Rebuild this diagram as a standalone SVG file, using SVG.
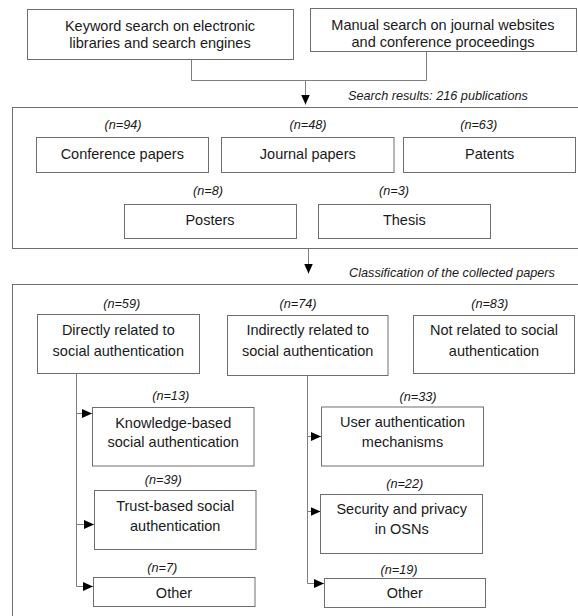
<svg xmlns="http://www.w3.org/2000/svg" width="578" height="616" viewBox="0 0 578 616">
<style>
  .box { fill: #ffffff; stroke: #6e6e6e; stroke-width: 1; }
  .frame { fill: none; stroke: #6e6e6e; stroke-width: 1; }
  .t { font-family: "Liberation Sans", Arial, sans-serif; font-size: 14.5px; fill: #1a1a1a; text-anchor: middle; }
  .n { font-family: "Liberation Sans", Arial, sans-serif; font-size: 12.7px; font-style: italic; fill: #1a1a1a; text-anchor: middle; }
  .cap { font-family: "Liberation Sans", Arial, sans-serif; font-size: 12.7px; font-style: italic; fill: #1a1a1a; text-anchor: start; }
  .conn { fill: none; stroke: #7f7f7f; stroke-width: 1; }
</style>
<defs>
  <marker id="ah" markerUnits="userSpaceOnUse" markerWidth="10" markerHeight="10" refX="10" refY="4.5" orient="auto">
    <path d="M0,0 L10,4.5 L0,9 z" fill="#000000"/>
  </marker>
</defs>
<rect width="578" height="616" fill="#ffffff"/>

<g id="frame-search-results">
  <rect class="frame" x="12.5" y="107.5" width="580" height="141"/>
  <text class="cap" x="348" y="99.5">Search results: 216 publications</text>
</g>
<g id="frame-classification">
  <rect class="frame" x="12.5" y="284.5" width="580" height="350"/>
  <text class="cap" x="349" y="276.5">Classification of the collected papers</text>
</g>

<g id="connectors">
  <path class="conn" d="M191.5,59.5 V80.5 H426.5 V52"/>
  <path class="conn" d="M305.5,80.5 V104.5" marker-end="url(#ah)"/>
  <path class="conn" d="M308.5,248.5 V273.5" marker-end="url(#ah)"/>
  <path class="conn" d="M76.5,373.5 V586.5"/>
  <path class="conn" d="M76.5,413.5 H92" marker-end="url(#ah)"/>
  <path class="conn" d="M76.5,524.5 H94" marker-end="url(#ah)"/>
  <path class="conn" d="M76.5,586.5 H93" marker-end="url(#ah)"/>
  <path class="conn" d="M307.5,375.5 V583.5"/>
  <path class="conn" d="M307.5,436.5 H321" marker-end="url(#ah)"/>
  <path class="conn" d="M307.5,511.5 H320.5" marker-end="url(#ah)"/>
  <path class="conn" d="M307.5,583.5 H324" marker-end="url(#ah)"/>
</g>

<g id="keyword-search">
  <rect class="box" x="27.5" y="9.5" width="266" height="50"/>
  <text class="t" x="160" y="30.5">Keyword search on electronic</text>
  <text class="t" x="160" y="48">libraries and search engines</text>
</g>
<g id="manual-search">
  <rect class="box" x="310.5" y="8.5" width="266" height="43"/>
  <text class="t" x="443" y="30">Manual search on journal websites</text>
  <text class="t" x="443" y="47">and conference proceedings</text>
</g>

<g id="conference-papers">
  <text class="n" x="123" y="128.5">(n=94)</text>
  <rect class="box" x="36.5" y="137.5" width="172" height="35"/>
  <text class="t" x="122.3" y="158.5">Conference papers</text>
</g>
<g id="journal-papers">
  <text class="n" x="308" y="128.5">(n=48)</text>
  <rect class="box" x="221.5" y="137.5" width="172.5" height="35"/>
  <text class="t" x="307.8" y="158.5">Journal papers</text>
</g>
<g id="patents">
  <text class="n" x="478.7" y="128.5">(n=63)</text>
  <rect class="box" x="403.5" y="137.5" width="172" height="35"/>
  <text class="t" x="489.7" y="158.5">Patents</text>
</g>
<g id="posters">
  <text class="n" x="208" y="195">(n=8)</text>
  <rect class="box" x="124.5" y="204.5" width="172" height="34"/>
  <text class="t" x="210" y="225">Posters</text>
</g>
<g id="thesis">
  <text class="n" x="394" y="195">(n=3)</text>
  <rect class="box" x="318.5" y="204.5" width="172" height="34"/>
  <text class="t" x="404.3" y="225">Thesis</text>
</g>

<g id="directly-related">
  <text class="n" x="121.7" y="307.5">(n=59)</text>
  <rect class="box" x="37.5" y="314.5" width="162" height="59"/>
  <text class="t" x="118.3" y="335">Directly related to</text>
  <text class="t" x="118.3" y="355.5">social authentication</text>
</g>
<g id="indirectly-related">
  <text class="n" x="298" y="307.5">(n=74)</text>
  <rect class="box" x="227.5" y="315.5" width="160.5" height="60"/>
  <text class="t" x="307.7" y="335">Indirectly related to</text>
  <text class="t" x="307.7" y="355.5">social authentication</text>
</g>
<g id="not-related">
  <text class="n" x="489.7" y="307.5">(n=83)</text>
  <rect class="box" x="413.5" y="315.5" width="161" height="58"/>
  <text class="t" x="494" y="335">Not related to social</text>
  <text class="t" x="494" y="355.5">authentication</text>
</g>

<g id="knowledge-based">
  <text class="n" x="170.7" y="399.5">(n=13)</text>
  <rect class="box" x="92.5" y="407.5" width="161.5" height="58.5"/>
  <text class="t" x="173.2" y="427.5">Knowledge-based</text>
  <text class="t" x="173.2" y="447">social authentication</text>
</g>
<g id="trust-based">
  <text class="n" x="163.3" y="484">(n=39)</text>
  <rect class="box" x="94.5" y="490.5" width="161.5" height="59"/>
  <text class="t" x="175.2" y="510.5">Trust-based social</text>
  <text class="t" x="175.2" y="531">authentication</text>
</g>
<g id="other-direct">
  <text class="n" x="162.3" y="571.5">(n=7)</text>
  <rect class="box" x="93.5" y="577.5" width="161.5" height="29"/>
  <text class="t" x="174" y="597.5">Other</text>
</g>

<g id="user-authentication">
  <text class="n" x="418" y="400.5">(n=33)</text>
  <rect class="box" x="321.5" y="407" width="162" height="59"/>
  <text class="t" x="402.5" y="427.3">User authentication</text>
  <text class="t" x="402.5" y="446.7">mechanisms</text>
</g>
<g id="security-privacy">
  <text class="n" x="404.7" y="488">(n=22)</text>
  <rect class="box" x="320.5" y="494.5" width="162" height="59"/>
  <text class="t" x="401.7" y="514.3">Security and privacy</text>
  <text class="t" x="401.7" y="534.3">in OSNs</text>
</g>
<g id="other-indirect">
  <text class="n" x="399" y="573.5">(n=19)</text>
  <rect class="box" x="324.5" y="578.5" width="161" height="29"/>
  <text class="t" x="404.8" y="598.3">Other</text>
</g>
</svg>
